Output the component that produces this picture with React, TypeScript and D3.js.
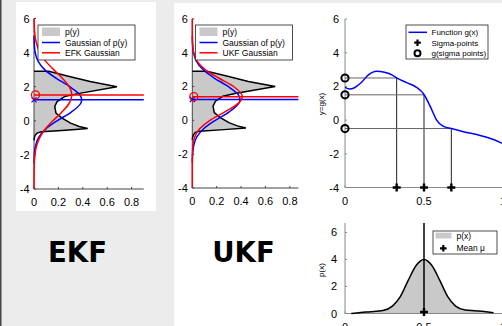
import React from 'react';
import * as d3 from 'd3';

const FONT = "'Liberation Sans', Arial, Helvetica, sans-serif";

// ---- p(y): the true density of y = g(x) (y value, density) ----
const pyY = [2.9, 2.9, 2.6, 2.3, 2.0, 1.58, 1.42, 1.13, 0.84, 0.45, 0.16, -0.14, -0.33, -0.45, -0.55, -0.64, -0.72, -0.85, -1.0, -1.15];
const pyD = [0, 0.12, 0.29, 0.46, 0.68, 0.35, 0.25, 0.19, 0.17, 0.18, 0.23, 0.3, 0.37, 0.44, 0.26, 0.06, 0.025, 0.01, 0.003, 0];

// ---- Gaussian fitted to p(y) (blue) ----
const gaussY = [5, 4.5, 4, 3.5, 3, 2.5, 2, 1.5, 1.23, 1, 0.5, 0, -0.5, -1, -1.5, -2, -2.5];
const gaussD = [0.0004, 0.0023, 0.0098, 0.033, 0.087, 0.18, 0.294, 0.378, 0.391, 0.381, 0.303, 0.189, 0.093, 0.036, 0.011, 0.0026, 0.0005];
const gaussMean = 1.23;

// ---- EKF Gaussian (red, left panel) ----
const ekfY = [6, 5.5, 5, 4.5, 4, 3.5, 3, 2.5, 2, 1.52, 1, 0.5, 0, -0.5, -1, -1.5, -2, -2.5, -3, -3.5, -4];
const ekfD = [0.0007, 0.0027, 0.0081, 0.0215, 0.049, 0.095, 0.161, 0.232, 0.289, 0.31, 0.286, 0.227, 0.155, 0.091, 0.046, 0.02, 0.0075, 0.0024, 0.0007, 0.0002, 0];
const ekfMean = 1.52;

// ---- UKF Gaussian (red, middle panel) ----
const ukfY = [6, 5, 4.5, 4, 3.5, 3, 2.5, 2, 1.4, 1, 0.5, 0, -0.5, -1, -1.5, -2, -2.5, -3, -4];
const ukfD = [0, 0.0004, 0.0025, 0.0113, 0.039, 0.105, 0.216, 0.339, 0.41, 0.377, 0.267, 0.145, 0.06, 0.019, 0.0047, 0.0009, 0.0001, 0, 0];
const ukfMean = 1.4;

// ---- Function g(x) ----
const gX = [0, 0.03, 0.06, 0.1, 0.15, 0.2, 0.25, 0.3, 0.327, 0.39, 0.45, 0.5, 0.54, 0.58, 0.62, 0.673, 0.75, 0.85, 0.94, 1.0];
const gY = [1.94, 1.84, 1.92, 2.2, 2.7, 2.9, 2.84, 2.67, 2.5, 2.22, 1.96, 1.52, 0.8, 0.0, -0.36, -0.5, -0.69, -0.9, -1.15, -1.4];

// ---- Sigma points ----
const sigmaX = [0.327, 0.5, 0.673];
const sigmaG = [2.5, 1.5, -0.5];

// ---- p(x) ----
const pxX = [0.04, 0.1, 0.16, 0.24, 0.3, 0.35, 0.4, 0.45, 0.5, 0.55, 0.6, 0.65, 0.7, 0.76, 0.82, 0.88, 0.94];
const pxY = [0, 0.08, 0.13, 0.22, 0.55, 1.25, 2.45, 3.55, 4.0, 3.55, 2.45, 1.25, 0.55, 0.26, 0.2, 0.15, 0.05];
const meanMu = 0.5;

// ---- ticks ----
const densTicks = [0, 0.2, 0.4, 0.6, 0.8];
const yTicks = [-4, -2, 0, 2, 4, 6];
const unitTicks = [0, 0.5, 1];
const pxTicks = [0, 2, 4, 6];

const GRAY = '#c9c9c9';

function plus(cx: number, cy: number, s: number, w: number) {
  return <path d={`M${cx - s},${cy}H${cx + s}M${cx},${cy - s}V${cy + s}`} stroke="#000" strokeWidth={w} fill="none" />;
}

function Axes(props: {
  xs: d3.ScaleLinear<number, number>; ys: d3.ScaleLinear<number, number>;
  xT: number[]; yT: number[]; color: string; gap: number; xEnd?: number;
}) {
  const { xs, ys, xT, yT, color, gap } = props;
  const [y0, y1] = ys.range();
  const x0 = xs.range()[0];
  const xEnd = props.xEnd ?? xs.range()[1];
  return (
    <g fontFamily={FONT} fontSize={11} fill="#000">
      <line x1={x0} x2={x0} y1={y0} y2={y1} stroke={color} strokeWidth={1} />
      <line x1={x0} x2={xEnd} y1={y0} y2={y0} stroke={color} strokeWidth={1} />
      {xT.map((t) => (
        <g key={'x' + t}>
          <line x1={xs(t)} x2={xs(t)} y1={y0} y2={y0 - 2} stroke={color} />
          <text x={xs(t)} y={y0 + 17} textAnchor="middle">{String(t)}</text>
        </g>
      ))}
      {yT.map((t) => (
        <g key={'y' + t}>
          <line x1={x0} x2={x0 + 2} y1={ys(t)} y2={ys(t)} stroke={color} />
          <text x={x0 - gap} y={ys(t) + 4} textAnchor="end">{String(t)}</text>
        </g>
      ))}
    </g>
  );
}

function DensPanel(props: {
  xs: d3.ScaleLinear<number, number>; ys: d3.ScaleLinear<number, number>;
  redY: number[]; redD: number[]; redMean: number; legX: number; redName: string;
}) {
  const { xs, ys, redY, redD, redMean, legX, redName } = props;
  const xEnd = xs.range()[1];
  const pts = pyY.map((y, i) => [pyD[i], y] as [number, number]);
  const area = d3.area<[number, number]>().x0(xs(0)).x1((d) => xs(d[0])).y((d) => ys(d[1]));
  const line = d3.line<[number, number]>().x((d) => xs(d[0])).y((d) => ys(d[1]));
  const smooth = d3.line<[number, number]>().x((d) => xs(d[0])).y((d) => ys(d[1])).curve(d3.curveMonotoneY);
  const blue = gaussY.map((y, i) => [gaussD[i], y] as [number, number]);
  const red = redY.map((y, i) => [redD[i], y] as [number, number]);
  const bx = xs(0), by = ys(gaussMean);
  return (
    <g>
      <path d={area(pts) || ''} fill={GRAY} stroke="none" />
      <Axes xs={xs} ys={ys} xT={densTicks} yT={yTicks} color="#444" gap={4.5} xEnd={xEnd} />
      <path d={line(pts) || ''} fill="none" stroke="#000" strokeWidth={1.5} />
      <path d={smooth(blue) || ''} fill="none" stroke="#0000ff" strokeWidth={1.5} />
      <line x1={xs(0)} x2={xEnd} y1={ys(gaussMean)} y2={ys(gaussMean)} stroke="#0000ff" strokeWidth={1.5} />
      <path d={`M${bx - 2.5},${by - 2.5}L${bx + 2.5},${by + 2.5}M${bx - 2.5},${by + 2.5}L${bx + 2.5},${by - 2.5}`} stroke="#0000ff" strokeWidth={1.2} />
      <path d={smooth(red) || ''} fill="none" stroke="#ff0000" strokeWidth={1.5} />
      <line x1={xs(0)} x2={xEnd} y1={ys(redMean)} y2={ys(redMean)} stroke="#ff0000" strokeWidth={1.5} />
      <circle cx={xs(0) + 1.5} cy={ys(redMean)} r={4} fill="none" stroke="#ff0000" strokeWidth={1.3} />
      {/* legend */}
      <g fontFamily={FONT} fontSize={8.5}>
        <rect x={legX} y={25} width={97} height={35} fill="#fff" stroke="#222" strokeWidth={0.8} />
        <rect x={legX + 4} y={27.5} width={18} height={8.5} fill={GRAY} />
        <text x={legX + 27} y={34.5}>p(y)</text>
        <line x1={legX + 4} x2={legX + 22} y1={42.5} y2={42.5} stroke="#0000ff" strokeWidth={1.5} />
        <text x={legX + 27} y={45.5}>Gaussian of p(y)</text>
        <line x1={legX + 4} x2={legX + 22} y1={52.8} y2={52.8} stroke="#ff0000" strokeWidth={1.5} />
        <text x={legX + 27} y={55.8}>{redName}</text>
      </g>
    </g>
  );
}

export default function App() {
  const ekfX = d3.scaleLinear().domain([0, 0.9]).range([34, 143.8]);
  const ekfYs = d3.scaleLinear().domain([-4, 6]).range([189, 18.5]);
  const ukfX = d3.scaleLinear().domain([0, 0.87]).range([192.3, 298.4]);
  const ukfYs = d3.scaleLinear().domain([-4, 6]).range([188, 18.8]);

  const gxs = d3.scaleLinear().domain([0, 1]).range([345, 503]);
  const gys = d3.scaleLinear().domain([-4, 6]).range([187.5, 19]);
  const pys = d3.scaleLinear().domain([0, 6.7]).range([313.5, 223]);

  const gLine = d3.line<number>().x((d, i) => gxs(gX[i])).y((d) => gys(d)).curve(d3.curveMonotoneX);
  const pArea = d3.area<number>().x((d, i) => gxs(pxX[i])).y0(pys(0)).y1((d) => pys(d)).curve(d3.curveMonotoneX);
  const pLine = d3.line<number>().x((d, i) => gxs(pxX[i])).y((d) => pys(d)).curve(d3.curveMonotoneX);

  return (
    <svg width={502} height={326} style={{ position: 'absolute', left: 0, top: 0 }}>
      <rect x={0} y={0} width={502} height={326} fill="#ececec" />
      <rect x={174} y={3} width={328} height={323} fill="#fff" />
      <rect x={16} y={2} width={140} height={209} fill="#fff" />
      <rect x={0} y={0} width={1.5} height={326} fill="#444" />

      <DensPanel xs={ekfX} ys={ekfYs} redY={ekfY} redD={ekfD} redMean={ekfMean} legX={38} redName="EFK Gaussian" />
      <DensPanel xs={ukfX} ys={ukfYs} redY={ukfY} redD={ukfD} redMean={ukfMean} legX={195.5} redName="UKF Gaussian" />

      <text x={77.5} y={262} textAnchor="middle" fontFamily="'DejaVu Sans', sans-serif" fontWeight="bold" fontSize={27.5}>EKF</text>
      <text x={243.5} y={262} textAnchor="middle" fontFamily="'DejaVu Sans', sans-serif" fontWeight="bold" fontSize={27.5}>UKF</text>

      {/* g(x) panel */}
      <Axes xs={gxs} ys={gys} xT={unitTicks} yT={yTicks} color="#888" gap={6} xEnd={502} />
      <text transform="translate(323.5,104) rotate(-90)" textAnchor="middle" fontFamily={FONT} fontSize={8}>y=g(x)</text>
      {sigmaX.map((sx, i) => (
        <g key={'s' + i}>
          <line x1={gxs(0)} x2={gxs(sx)} y1={gys(sigmaG[i])} y2={gys(sigmaG[i])} stroke="#666" strokeWidth={1} />
          <line x1={gxs(sx)} x2={gxs(sx)} y1={gys(sigmaG[i])} y2={gys(-4)} stroke="#222" strokeWidth={1} />
        </g>
      ))}
      <path d={gLine(gY) || ''} fill="none" stroke="#0000ff" strokeWidth={1.5} />
      {sigmaX.map((sx, i) => (
        <g key={'m' + i}>
          {plus(gxs(sx), gys(-4), 4, 2.4)}
          <circle cx={gxs(0)} cy={gys(sigmaG[i])} r={3.6} fill="none" stroke="#000" strokeWidth={2} />
        </g>
      ))}
      <g fontFamily={FONT} fontSize={8}>
        <rect x={406} y={25} width={82} height={34} fill="#fff" stroke="#222" strokeWidth={0.8} />
        <line x1={408.5} x2={427} y1={32.3} y2={32.3} stroke="#0000ff" strokeWidth={1.5} />
        <text x={431.5} y={35.2}>Function g(x)</text>
        {plus(417.5, 42.7, 3.3, 2.2)}
        <text x={431.5} y={45.6}>Sigma-points</text>
        <circle cx={417.5} cy={53.2} r={3} fill="none" stroke="#000" strokeWidth={2} />
        <text x={431.5} y={56.1}>g(sigma points)</text>
      </g>

      {/* p(x) panel */}
      <path d={pArea(pxY) || ''} fill={GRAY} />
      <Axes xs={gxs} ys={pys} xT={unitTicks} yT={pxTicks} color="#888" gap={8} xEnd={502} />
      <text transform="translate(323.5,270) rotate(-90)" textAnchor="middle" fontFamily={FONT} fontSize={8}>p(x)</text>
      <path d={pLine(pxY) || ''} fill="none" stroke="#000" strokeWidth={1.5} />
      <line x1={gxs(meanMu)} x2={gxs(meanMu)} y1={pys(0)} y2={pys(6.7)} stroke="#000" strokeWidth={1.5} />
      {plus(gxs(meanMu), pys(0) - 1.5, 4, 2.4)}
      <g fontFamily={FONT} fontSize={8.5}>
        <rect x={433} y={231} width={64} height={23} fill="#fff" stroke="#222" strokeWidth={0.8} />
        <rect x={435.5} y={232.7} width={16} height={5.8} fill={GRAY} />
        <text x={456.5} y={238.5}>p(x)</text>
        {plus(443.3, 248.3, 3.3, 2.2)}
        <text x={456.5} y={251.3}>Mean μ</text>
      </g>
    </svg>
  );
}
